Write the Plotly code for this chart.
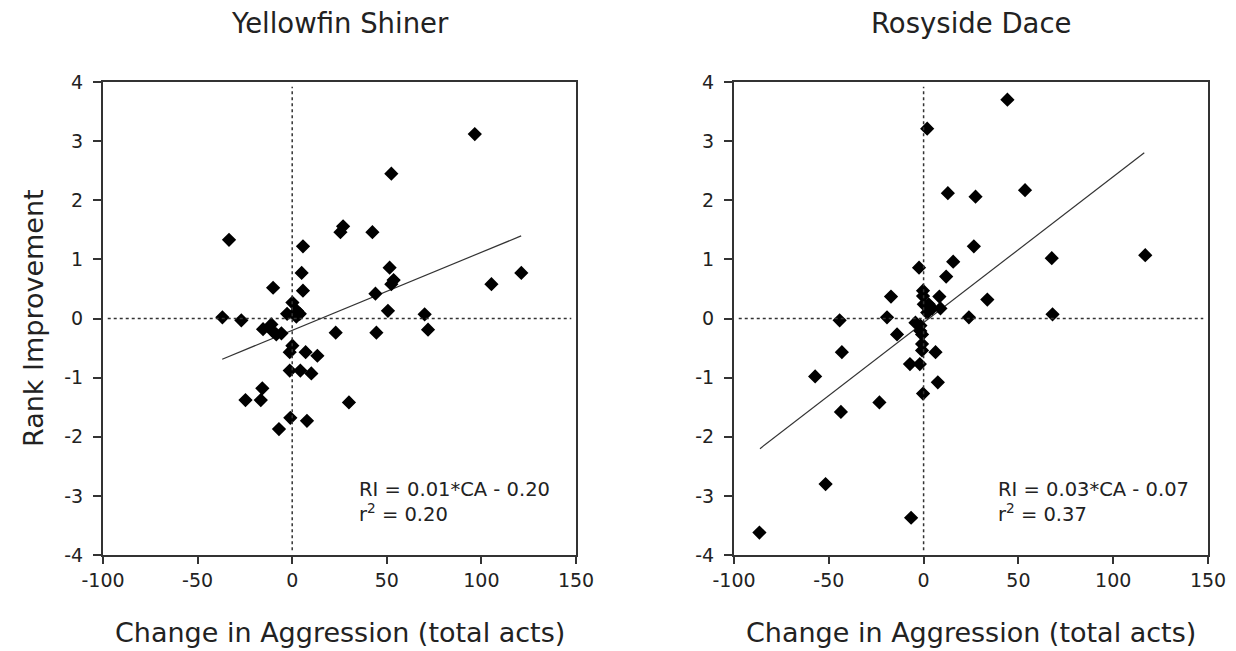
import plotly.graph_objects as go

# ---- data ----
yf_x = [96.5, 52.4, -33.4, 26.9, 25.5, 42.4, 5.7, 5.0, 51.5, 53.6, 52.4, 105.3, 121.1,
        -10.1, 5.7, 44.0, 0.1, -2.7, 2.5, 4.0, 2.2, 50.6, 70.0, -36.9, -26.9, -11.0,
        -15.4, -10.5, -5.7, -8.4, 23.0, 44.5, 71.8, 0.1, -1.3, 7.1, 13.3, -1.3, 4.3,
        10.1, -15.8, -24.7, -16.6, 30.0, -1.0, 7.8, -7.0]
yf_y = [3.12, 2.45, 1.33, 1.56, 1.46, 1.46, 1.22, 0.77, 0.86, 0.65, 0.58, 0.58, 0.77,
        0.52, 0.47, 0.42, 0.27, 0.08, 0.13, 0.08, 0.03, 0.13, 0.07, 0.02, -0.03, -0.10,
        -0.18, -0.21, -0.25, -0.27, -0.24, -0.24, -0.19, -0.46, -0.57, -0.57, -0.63,
        -0.88, -0.88, -0.93, -1.18, -1.38, -1.38, -1.42, -1.68, -1.73, -1.87]

rd_x = [44.2, 1.9, 12.8, 27.4, 53.5, 26.5, 15.6, 67.6, 116.9, -2.4, 11.9, -17.2, -0.3,
        -0.3, 8.3, 33.6, 0.1, 2.7, 4.5, 8.9, 1.9, 68.0, 23.9, -19.3, -44.3, -4.3, -1.7,
        -1.7, -14.0, -0.8, -0.8, -0.8, 6.3, -43.1, -7.2, -2.0, -57.2, 7.5, -0.3, -23.3,
        -43.6, -51.7, -6.6, -86.6]
rd_y = [3.70, 3.21, 2.12, 2.06, 2.17, 1.22, 0.96, 1.02, 1.07, 0.86, 0.71, 0.37, 0.47,
        0.38, 0.37, 0.32, 0.24, 0.24, 0.17, 0.17, 0.10, 0.07, 0.02, 0.02, -0.03, -0.07,
        -0.12, -0.21, -0.27, -0.27, -0.43, -0.54, -0.57, -0.57, -0.77, -0.77, -0.98,
        -1.08, -1.27, -1.42, -1.58, -2.80, -3.37, -3.62]

yf_fit_x = [-37.0, 121.0]
yf_slope, yf_intercept = 0.0132, -0.20
rd_fit_x = [-86.3, 116.4]
rd_slope, rd_intercept = 0.0247, -0.07

titles = ["Yellowfin Shiner", "Rosyside Dace"]
eq_texts = ["RI = 0.01*CA - 0.20<br>r<sup>2</sup> = 0.20",
            "RI = 0.03*CA - 0.07<br>r<sup>2</sup> = 0.37"]
x_title = "Change in Aggression (total acts)"
y_title = "Rank Improvement"
x_ticks = [-100, -50, 0, 50, 100, 150]
x_tick_text = ["-100", "-50", "0", "50", "100", "150"]
y_ticks = [-4, -3, -2, -1, 0, 1, 2, 3, 4]
y_tick_text = ["-4", "-3", "-2", "-1", "0", "1", "2", "3", "4"]

FONT = "DejaVu Sans"
TXT = "#222222"
AX = "#333333"

W, H = 1236, 651
boxes = [(103, 576), (734, 1208)]
top_px, bot_px = 82, 555

fig = go.Figure()

series = [(yf_x, yf_y, yf_fit_x, yf_slope, yf_intercept),
          (rd_x, rd_y, rd_fit_x, rd_slope, rd_intercept)]

for i, (sx, sy, fx, m, b) in enumerate(series):
    xa = "x" if i == 0 else "x2"
    ya = "y" if i == 0 else "y2"
    fig.add_trace(go.Scatter(x=fx, y=[m * v + b for v in fx], mode="lines",
                             line=dict(color="#333333", width=1.2),
                             xaxis=xa, yaxis=ya, showlegend=False, hoverinfo="skip"))
    fig.add_trace(go.Scatter(x=sx, y=sy, mode="markers",
                             marker=dict(symbol="diamond", size=9, color="black",
                                         line=dict(color="black", width=1.8)),
                             xaxis=xa, yaxis=ya, showlegend=False))

layout = dict(width=W, height=H, margin=dict(l=0, r=0, t=0, b=0, autoexpand=False),
              plot_bgcolor="white", paper_bgcolor="white",
              font=dict(family=FONT, color=TXT, size=19), showlegend=False)

ydom = [1 - bot_px / H, 1 - top_px / H]
for i, (l, r) in enumerate(boxes):
    sfx = "" if i == 0 else "2"
    layout["xaxis" + sfx] = dict(
        domain=[l / W, r / W], range=[-100, 150], tickmode="array",
        tickvals=x_ticks, ticktext=x_tick_text,
        ticks="outside", ticklen=7, tickwidth=2, tickcolor=AX,
        showline=True, linecolor=AX, linewidth=2, mirror=True,
        showgrid=False, zeroline=False, anchor="y" + sfx, automargin=False,
        tickfont=dict(size=19, family=FONT, color=TXT))
    layout["yaxis" + sfx] = dict(
        domain=ydom, range=[-4, 4], tickmode="array",
        tickvals=y_ticks, ticktext=y_tick_text,
        ticks="outside", ticklen=8, tickwidth=2, tickcolor=AX,
        showline=True, linecolor=AX, linewidth=2, mirror=True,
        showgrid=False, zeroline=False, anchor="x" + sfx, automargin=False,
        ticklabelstandoff=6,
        tickfont=dict(size=19, family=FONT, color=TXT))

fig.update_layout(**layout)

shapes = []
annotations = []
for i, (l, r) in enumerate(boxes):
    xr = "x" if i == 0 else "x2"
    yr = "y" if i == 0 else "y2"
    shapes.append(dict(type="line", xref=xr, yref=yr + " domain", x0=0, x1=0,
                       y0=0.01, y1=0.99, line=dict(color="#333333", width=1.5, dash="dot")))
    shapes.append(dict(type="line", xref=xr + " domain", yref=yr, x0=0.01, x1=0.99,
                       y0=0, y1=0, line=dict(color="#333333", width=1.5, dash="dot")))
    cx = (l + r) / 2 / W
    annotations.append(dict(text=titles[i], xref="paper", yref="paper", x=cx,
                            y=1 - 23 / H, showarrow=False, xanchor="center",
                            yanchor="middle", font=dict(size=27.5, family=FONT, color=TXT)))
    annotations.append(dict(text=x_title, xref="paper", yref="paper", x=cx,
                            y=1 - 632 / H, showarrow=False, xanchor="center",
                            yanchor="middle", font=dict(size=27, family=FONT, color=TXT)))
    annotations.append(dict(text=eq_texts[i], xref=xr + " domain", yref=yr + " domain",
                            x=0.538 if i == 0 else 0.553, y=0.112, showarrow=False,
                            xanchor="left", yanchor="middle", align="left",
                            font=dict(size=19.5, family=FONT, color=TXT)))

annotations.append(dict(text=y_title, xref="paper", yref="paper", x=33 / W,
                        y=1 - 318 / H, showarrow=False, textangle=-90,
                        xanchor="center", yanchor="middle",
                        font=dict(size=27, family=FONT, color=TXT)))

fig.update_layout(shapes=shapes, annotations=annotations)
fig.write_html("out.html")
